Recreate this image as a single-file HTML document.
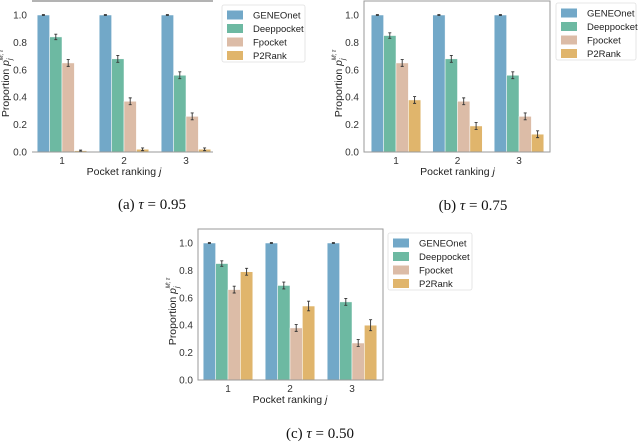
<!DOCTYPE html>
<html><head><meta charset="utf-8">
<style>
html,body{margin:0;padding:0;background:#fff;}
svg{display:block;font-family:"Liberation Sans",sans-serif;}
.cap{font-family:"Liberation Serif",serif;font-size:15px;}
</style></head>
<body>
<svg id="fig" width="640" height="442" viewBox="0 0 640 442" xmlns="http://www.w3.org/2000/svg"></svg>
<script>
const categories = ["1","2","3"];
const seriesNames = ["GENEOnet","Deeppocket","Fpocket","P2Rank"];
const colors = ["#72a8c8","#6db9a2","#dcbca7","#e0b56c"];
const yTicks = [0,0.2,0.4,0.6,0.8,1.0];
// panel a tau=0.95
const aGENEOnet=[1,1,1], aDeeppocket=[0.84,0.68,0.56], aFpocket=[0.65,0.37,0.26], aP2Rank=[0.01,0.02,0.02];
const aErr=[[0.003,0.003,0.003],[0.02,0.025,0.025],[0.025,0.025,0.025],[0.004,0.01,0.01]];
// panel b tau=0.75
const bGENEOnet=[1,1,1], bDeeppocket=[0.85,0.68,0.56], bFpocket=[0.65,0.37,0.26], bP2Rank=[0.38,0.19,0.13];
const bErr=[[0.003,0.003,0.003],[0.02,0.025,0.025],[0.025,0.025,0.025],[0.025,0.025,0.025]];
// panel c tau=0.50
const cGENEOnet=[1,1,1], cDeeppocket=[0.85,0.69,0.57], cFpocket=[0.66,0.38,0.27], cP2Rank=[0.79,0.54,0.40];
const cErr=[[0.003,0.003,0.003],[0.02,0.025,0.025],[0.025,0.025,0.025],[0.025,0.035,0.04]];

const NS="http://www.w3.org/2000/svg";
const svg=document.getElementById('fig');
function mk(tag,attrs,parent,text){const e=document.createElementNS(NS,tag);for(const k in attrs)e.setAttribute(k,attrs[k]);if(text!==undefined)e.textContent=text;(parent||svg).appendChild(e);return e;}

function panel(id,p,series,errs,caption){
  const g=mk('g',{});
  
  
  const y=v=>p.y0-(p.y0-p.y1)*v;
  const x=i=>p.t0+(p.t2-p.t0)/2*i;
  const bw=p.bw;
  if(p.frame){
    const fr=mk('rect',{x:p.fx0,y:p.fy0,width:p.fx1-p.fx0,height:p.y0-p.fy0,fill:'none',stroke:'#9a9a9a','stroke-width':1},g);
    
    
  } else {
    const tl=mk('line',{x1:p.fx0,x2:p.fx1,y1:1,y2:1,stroke:'#9a9a9a','stroke-width':1.5},g);
    
    
  }
  yTicks.forEach(t=>{
    const tx=mk('text',{x:p.fx0-5,y:y(t)+3.5,'text-anchor':'end','font-size':10,fill:'#333'},g,t.toFixed(1));
    
    
  });
  categories.forEach((c,i)=>{
    const tx=mk('text',{x:x(i),y:p.y0+12,'text-anchor':'middle','font-size':10,fill:'#333'},g,c);
    
    
    series.forEach((s,k)=>{
      const v=s[i];
      const bx=x(i)-2*bw+k*bw;
      const r=mk('rect',{x:bx,y:y(v),width:bw,height:p.y0-y(v),fill:colors[k],stroke:'#fff','stroke-width':0.5},g);
      
      
      const e=errs[k][i], cx=bx+bw/2;
      const eb=mk('path',{d:`M${cx} ${y(v+e)}V${y(v-e)}M${cx-1.5} ${y(v+e)}H${cx+1.5}M${cx-1.5} ${y(v-e)}H${cx+1.5}`,stroke:'#333','stroke-width':0.9,fill:'none'},g);
      
      
    });
  });
  const bl=mk('line',{x1:p.fx0,x2:p.fx1,y1:p.y0,y2:p.y0,stroke:'#9a9a9a','stroke-width':1},g);
  
  
  const xl=mk('text',{x:x(1),y:p.y0+23,'text-anchor':'middle','font-size':10.5,fill:'#222'},g,'Pocket ranking ');
  
  
  mk('tspan',{'font-style':'italic'},xl,'j');
  const ym=(p.y0+p.y1)/2;
  const yl=mk('text',{x:p.ylx,y:ym,'text-anchor':'middle','font-size':10.5,fill:'#222',transform:`rotate(-90 ${p.ylx} ${ym})`},g,'Proportion ');
  
  
  mk('tspan',{'font-style':'italic'},yl,'p');
  mk('tspan',{'font-size':7,'dy':3,'font-style':'italic'},yl,'j');
  mk('tspan',{'font-size':6,'dy':-9,'dx':-2,'font-style':'italic'},yl,'M; τ');
  // legend
  const lg=mk('g',{},g);
  
  
  mk('rect',{x:p.lx,y:p.ly,width:p.lw,height:57,fill:'#fff',stroke:'#e0e0e0','stroke-width':0.8,rx:2},lg);
  seriesNames.forEach((n,k)=>{
    const ey=p.ly+10+k*13.5;
    const pt=mk('rect',{x:p.lx+5,y:ey-4.5,width:16,height:9,fill:colors[k]},lg);
    
    
    const t=mk('text',{x:p.lx+31,y:ey+3.5,'font-size':9.5,fill:'#222'},lg,n);
    
    
  });
  const cp=mk('text',{x:p.cx,y:p.cy,'text-anchor':'middle',class:'cap',fill:'#111'},g,caption[0]+' ');
  
  
  mk('tspan',{'font-style':'italic'},cp,'τ');
  mk('tspan',{},cp,' = '+caption[1]);
}

panel('a',{frame:false,fx0:32,fx1:213,fy0:1,y0:152,y1:15,t0:62,t2:186,bw:12.4,ylx:9,lx:222,ly:5,lw:83,cx:152,cy:209},
  [aGENEOnet,aDeeppocket,aFpocket,aP2Rank],aErr,['(a)','0.95']);
panel('b',{frame:true,fx0:364,fx1:550,fy0:1,y0:152,y1:15,t0:396,t2:519,bw:12.4,ylx:342,lx:556,ly:3,lw:80,cx:473,cy:210},
  [bGENEOnet,bDeeppocket,bFpocket,bP2Rank],bErr,['(b)','0.75']);
panel('c',{frame:true,fx0:198,fx1:383,fy0:229,y0:380,y1:243,t0:228,t2:352,bw:12.4,ylx:176,lx:388,ly:233,lw:84,cx:320,cy:438},
  [cGENEOnet,cDeeppocket,cFpocket,cP2Rank],cErr,['(c)','0.50']);
</script>
</body></html>
